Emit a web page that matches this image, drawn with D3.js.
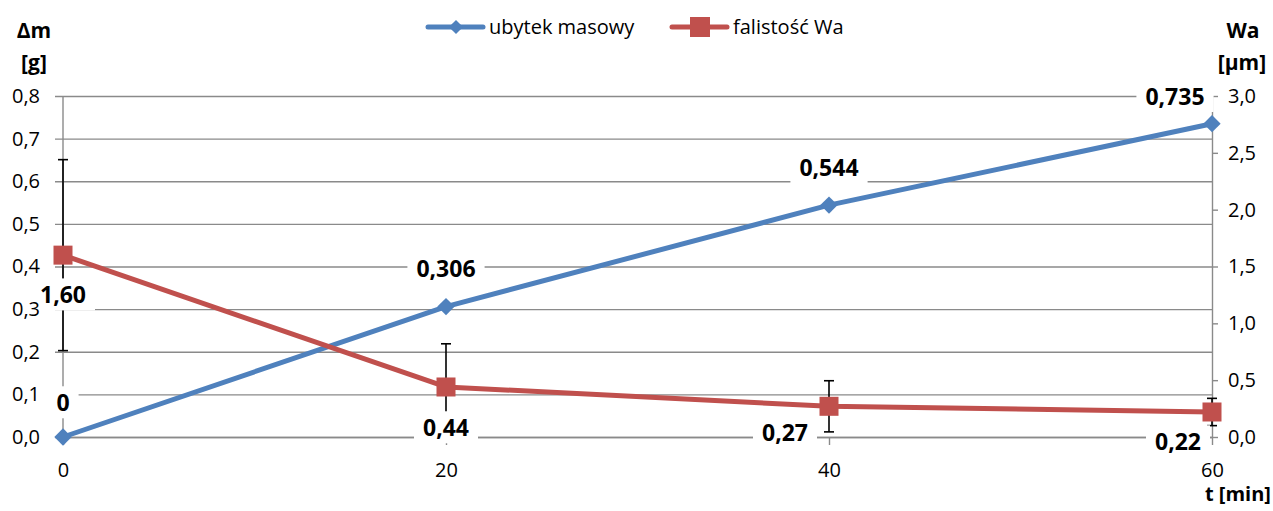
<!DOCTYPE html>
<html>
<head>
<meta charset="utf-8">
<script src="https://cdn.jsdelivr.net/npm/d3@7"></script>
<style>
  html, body { margin: 0; padding: 0; background: #fff; }
  svg { display: block; font-family: "Open Sans", Calibri, sans-serif; }
</style>
</head>
<body>
<svg id="chart" width="1273" height="511"></svg>
<script>
// ---- data ----
const times = [0, 20, 40, 60];
const massLoss = [0, 0.306, 0.544, 0.735];
const waviness = [1.60, 0.44, 0.27, 0.22];
const wavinessErr = [0.84, 0.38, 0.225, 0.12];
const massLabels = ["0", "0,306", "0,544", "0,735"];
const waLabels = ["1,60", "0,44", "0,27", "0,22"];
const leftTicks = [0, 0.1, 0.2, 0.3, 0.4, 0.5, 0.6, 0.7, 0.8];
const rightTicks = [0, 0.5, 1.0, 1.5, 2.0, 2.5, 3.0];
const xTicks = [0, 20, 40, 60];
const seriesNames = ["ubytek masowy", "falistość Wa"];

// ---- layout ----
const FONT = '"Open Sans", Calibri, sans-serif';
const plot = { left: 63, right: 1212, top: 96, bottom: 437 };
const blue = "#4F81BD", red = "#C0504D", grid = "#8A8A8A";
const svg = d3.select("#chart");

const x = d3.scaleLinear().domain([0, 60]).range([plot.left, plot.right]);
const yL = d3.scaleLinear().domain([0, 0.8]).range([plot.bottom, plot.top]);
const yR = d3.scaleLinear().domain([0, 3.0]).range([plot.bottom, plot.top]);
const fmt1 = v => d3.format(".1f")(v).replace(".", ",");

// gridlines (left axis ticks extend left of axis)
const gGrid = svg.append("g").attr("transform", `translate(${plot.left},0)`)
  .call(d3.axisLeft(yL).tickValues(leftTicks).tickFormat("")
    .tickSizeInner(-(plot.right - plot.left)).tickSizeOuter(0));
gGrid.select(".domain").remove();
gGrid.selectAll(".tick line").attr("x1", -8).attr("stroke", grid).attr("stroke-width", 1.4);

// left axis line
svg.append("line").attr("x1", plot.left).attr("x2", plot.left)
  .attr("y1", plot.top).attr("y2", plot.bottom).attr("stroke", grid).attr("stroke-width", 1.4);

// right axis
const gRight = svg.append("g").attr("transform", `translate(${plot.right},0)`)
  .call(d3.axisRight(yR).tickValues(rightTicks).tickFormat(fmt1)
    .tickSizeInner(6).tickSizeOuter(0).tickPadding(10));
gRight.select(".domain").attr("stroke", grid).attr("stroke-width", 1.4);
gRight.selectAll(".tick line").attr("stroke", grid).attr("stroke-width", 1.4);
gRight.selectAll(".tick text").attr("font-size", 20).attr("fill", "#000").attr("font-family", FONT);

// bottom axis
const gBottom = svg.append("g").attr("transform", `translate(0,${plot.bottom})`)
  .call(d3.axisBottom(x).tickValues(xTicks).tickFormat(d3.format("d"))
    .tickSizeInner(8).tickSizeOuter(0).tickPadding(18));
gBottom.select(".domain").attr("stroke", grid).attr("stroke-width", 1.4);
gBottom.selectAll(".tick line").attr("stroke", grid).attr("stroke-width", 1.4);
gBottom.selectAll(".tick text").attr("font-size", 20).attr("fill", "#000").attr("font-family", FONT);

// axis titles
const titleStyle = s => s.attr("font-weight", "bold").attr("font-size", 21).attr("fill", "#000")
  .attr("text-anchor", "middle").attr("font-family", FONT);
svg.append("text").attr("x", 34).attr("y", 38).text("Δm").call(titleStyle);
svg.append("text").attr("x", 34).attr("y", 70).text("[g]").call(titleStyle);
svg.append("text").attr("x", 1243).attr("y", 38).text("Wa").call(titleStyle);
svg.append("text").attr("x", 1242).attr("y", 70).text("[µm]").call(titleStyle);
svg.append("text").attr("x", 1271).attr("y", 501).attr("text-anchor", "end")
  .attr("font-weight", "bold").attr("font-size", 20).attr("font-family", FONT).text("t [min]");

// series lines
const massData = times.map((t, i) => ({ t, v: massLoss[i] }));
const waData = times.map((t, i) => ({ t, v: waviness[i], e: wavinessErr[i] }));
svg.append("path").datum(massData).attr("fill", "none").attr("stroke", blue)
  .attr("stroke-width", 5).attr("stroke-linejoin", "round")
  .attr("d", d3.line().x(d => x(d.t)).y(d => yL(d.v)));
svg.append("path").datum(waData).attr("fill", "none").attr("stroke", red)
  .attr("stroke-width", 5).attr("stroke-linejoin", "round")
  .attr("d", d3.line().x(d => x(d.t)).y(d => yR(d.v)));

// error bars
const eb = svg.append("g").attr("stroke", "#000").attr("stroke-width", 1.6);
waData.forEach(d => {
  const cx = x(d.t), y1 = yR(d.v + d.e), y2 = yR(d.v - d.e);
  eb.append("line").attr("x1", cx).attr("x2", cx).attr("y1", y1).attr("y2", y2);
  eb.append("line").attr("x1", cx - 5).attr("x2", cx + 5).attr("y1", y1).attr("y2", y1);
  eb.append("line").attr("x1", cx - 5).attr("x2", cx + 5).attr("y1", y2).attr("y2", y2);
});

// markers
svg.append("g").selectAll("path").data(massData).join("path")
  .attr("transform", d => `translate(${x(d.t)},${yL(d.v)}) rotate(45)`)
  .attr("d", d3.symbol().type(d3.symbolSquare).size(150)).attr("fill", blue);
svg.append("g").selectAll("rect").data(waData).join("rect")
  .attr("x", d => x(d.t) - 9.5).attr("y", d => yR(d.v) - 9.5)
  .attr("width", 19).attr("height", 19).attr("fill", red);

// data labels (white boxes)
const massShift = [[0, -34], [0, -38], [0, -37], [-37, -27]];
const waShift = [[0, 40], [0, 41], [-44, 26], [-34, 30]];
function addLabel(cx, cy, txt) {
  const g = svg.append("g");
  const t = g.append("text").attr("x", cx).attr("y", cy).attr("dy", "0.36em")
    .attr("text-anchor", "middle").attr("font-weight", "bold").attr("font-size", 23)
    .attr("font-family", FONT).attr("fill", "#000").text(txt);
  const bb = t.node().getBBox();
  g.insert("rect", "text").attr("x", bb.x - 9).attr("y", bb.y)
    .attr("width", bb.width + 18).attr("height", bb.height).attr("fill", "#fff");
}
massData.forEach((d, i) => addLabel(x(d.t) + massShift[i][0], yL(d.v) + massShift[i][1], massLabels[i]));
waData.forEach((d, i) => addLabel(x(d.t) + waShift[i][0], yR(d.v) + waShift[i][1], waLabels[i]));

// left tick labels (drawn on top)
const gLeft = svg.append("g").attr("transform", `translate(${plot.left},0)`)
  .call(d3.axisLeft(yL).tickValues(leftTicks).tickFormat(fmt1).tickSize(0).tickPadding(23));
gLeft.select(".domain").remove();
gLeft.selectAll(".tick text").attr("font-size", 20).attr("fill", "#000").attr("font-family", FONT);

// legend
const lg = svg.append("g").attr("font-size", 20).attr("font-family", FONT);
const legendItems = [
  { name: seriesNames[0], color: blue, x0: 428, shape: "diamond" },
  { name: seriesNames[1], color: red, x0: 672, shape: "square" }
];
legendItems.forEach(it => {
  const ly = 27;
  lg.append("line").attr("x1", it.x0).attr("x2", it.x0 + 55).attr("y1", ly).attr("y2", ly)
    .attr("stroke", it.color).attr("stroke-width", 5).attr("stroke-linecap", "round");
  if (it.shape === "diamond") {
    lg.append("path").attr("transform", `translate(${it.x0 + 28},${ly}) rotate(45)`)
      .attr("d", d3.symbol().type(d3.symbolSquare).size(100)).attr("fill", it.color);
  } else {
    lg.append("rect").attr("x", it.x0 + 18).attr("y", ly - 10).attr("width", 20).attr("height", 20)
      .attr("fill", it.color);
  }
  lg.append("text").attr("x", it.x0 + 61).attr("y", ly).attr("dy", "0.35em")
    .attr("fill", "#000").text(it.name);
});
</script>
</body>
</html>
